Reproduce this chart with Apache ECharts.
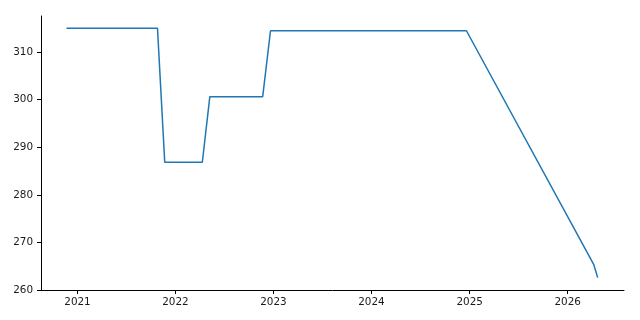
<!DOCTYPE html>
<html>
<head>
<meta charset="utf-8">
<script src="https://cdn.jsdelivr.net/npm/echarts@6/dist/echarts.min.js"></script>
<style>html,body{margin:0;padding:0;background:#fff}#c{width:640px;height:320px}</style>
</head>
<body>
<div id="c"></div>
<script>
var dates = ['2020-11-21','2021-10-26','2021-11-22','2022-04-11','2022-05-09','2022-11-22','2022-12-21','2024-12-20','2026-04-08','2026-04-23'];
var values = [315.0, 315.0, 286.85, 286.85, 300.65, 300.65, 314.5, 314.5, 265.4, 262.6];
var yearTicks = [2021, 2022, 2023, 2024, 2025, 2026];
var yTicks = [260, 270, 280, 290, 300, 310];
var xRange = ['2020-08-18', '2026-07-30'];

function ts(s) { return Date.parse(s + 'T00:00:00Z'); }
var yearStamps = yearTicks.map(function (y) { return Date.UTC(y, 0, 1); });
var data = dates.map(function (d, i) { return [ts(d), values[i]]; });

var chart = echarts.init(document.getElementById('c'), null, {renderer: 'canvas'});
chart.setOption({
  animation: false,
  backgroundColor: '#fff',
  grid: {left: 41, right: 16, top: 16, bottom: 30, containLabel: false},
  xAxis: {
    type: 'value',
    min: ts(xRange[0]),
    max: ts(xRange[1]),
    splitLine: {show: false},
    axisLine: {show: true, onZero: false, lineStyle: {color: '#000', width: 1}},
    axisTick: {show: true, length: 4, lineStyle: {color: '#000', width: 1}, customValues: yearStamps},
    axisLabel: {
      color: '#1a1a1a', fontFamily: 'DejaVu Sans', fontSize: 10.4, margin: 7,
      customValues: yearStamps,
      formatter: function (v) { return String(new Date(v).getUTCFullYear()); }
    }
  },
  yAxis: {
    type: 'value',
    min: 260,
    max: 317.6,
    interval: 10,
    splitLine: {show: false},
    axisLine: {show: true, lineStyle: {color: '#000', width: 1}},
    axisTick: {show: true, length: 4, lineStyle: {color: '#000', width: 1}, customValues: yTicks},
    axisLabel: {
      color: '#1a1a1a', fontFamily: 'DejaVu Sans', fontSize: 10.4, margin: 8,
      customValues: yTicks
    }
  },
  series: [{
    type: 'line',
    data: data,
    showSymbol: false,
    symbol: 'none',
    lineStyle: {color: '#1f77b4', width: 1.5},
    itemStyle: {color: '#1f77b4'}
  }]
});
</script>
</body>
</html>
